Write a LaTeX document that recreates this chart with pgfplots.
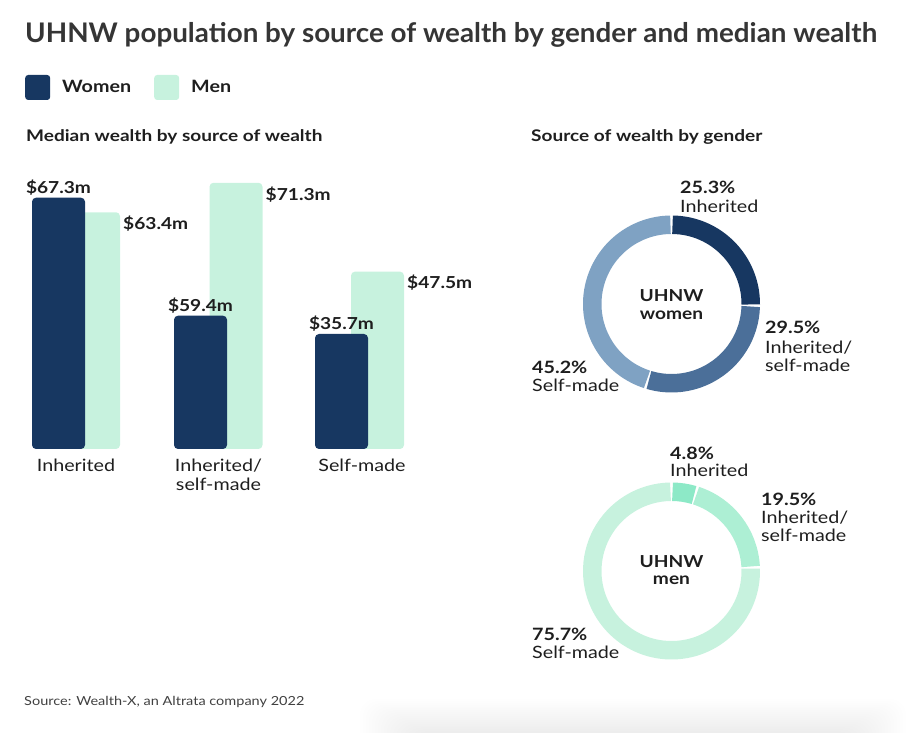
\documentclass[border=0pt]{standalone}
\usepackage{pgfplots}
\pgfplotsset{compat=1.18}
\usepackage{pgfplotstable}
\usepackage{fontspec}
\setmainfont{Lato}[FakeStretch=1.16]
\newfontfamily\titlefont{Lato}[FakeStretch=1.03]
\newfontfamily\subfont{Lato}[FakeStretch=1.19]
\definecolor{navy}{HTML}{173761}
\definecolor{mint}{HTML}{C7F2DE}
\definecolor{wmid}{HTML}{4B6F99}
\definecolor{wlight}{HTML}{7FA2C3}
\definecolor{minh}{HTML}{8DE9C7}
\definecolor{mmid}{HTML}{ADEFD4}
\definecolor{mself}{HTML}{C7F2DE}
\definecolor{ink}{HTML}{1E1E1E}
\newcommand\fs[1]{\fontsize{#1bp}{#1bp}\selectfont}

\pgfplotstableread{
share
25.3
29.5
45.2
}\womenshare
\pgfplotstableread{
share
4.8
19.5
75.7
}\menshare

\newcommand\ring[4]{%
  \xdef\cum{0}%
  \foreach \r/\c in {0/#2,1/#3,2/#4}{%
    \pgfplotstablegetelem{\r}{share}\of#1%
    \pgfmathsetmacro\aS{90-3.6*\cum-0.75}%
    \pgfmathsetmacro\aE{90-3.6*(\cum+\pgfplotsretval)+0.75}%
    \pgfmathsetmacro\nc{\cum+\pgfplotsretval}%
    \xdef\cum{\nc}%
    \draw[line width=18.5bp, draw=\c] (axis cs:0,0) ++(\aS:79.25bp) arc[start angle=\aS, end angle=\aE, radius=79.25bp];
  }%
}

\begin{document}
\begin{tikzpicture}
\path[use as bounding box] (0,0) rectangle (913bp,733bp);

% faint soft shadow at the bottom edge
\foreach \i in {0,...,17}{
  \fill[black, opacity=0.0035, rounded corners=16bp] (360bp+3*\i bp,-20bp) rectangle (906bp-3*\i bp,34bp-1.9*\i bp);
}

% title and subtitles
\node[anchor=base west, inner sep=0pt, text=ink!90, font=\titlefont\bfseries\fs{27}] at (25bp,690bp) {UHNW population by source of wealth by gender and median wealth};
\node[anchor=base west, inner sep=0pt, text=ink, font=\subfont\bfseries\fs{16}] at (26bp,591bp) {Median wealth by source of wealth};
\node[anchor=base west, inner sep=0pt, text=ink, font=\subfont\bfseries\fs{16}] at (531bp,591bp) {Source of wealth by gender};
\node[anchor=base west, inner sep=0pt, text=ink!85, font=\fs{12.5}] at (24bp,28bp) {Source: Wealth-X, an Altrata company 2022};

% bar chart
\begin{axis}[
  at={(20bp,284bp)}, anchor=south west, scale only axis,
  width=400bp, height=298.72bp,
  xmin=20, xmax=420, ymin=0, ymax=80,
  axis line style={draw=none}, ytick=\empty,
  xtick={76,218.5,362}, major tick length=0pt,
  xticklabels={Inherited,{Inherited/\\self-made},Self-made},
  xticklabel style={align=center, font=\fontsize{17bp}{18.5bp}\selectfont, text=ink, anchor=north, inner sep=0pt, yshift=-10bp},
  ybar, bar width=53, bar shift=0pt,
  clip=false,
  point meta=explicit symbolic,
  reverse legend,
  legend columns=2,
  legend cell align=left,
  legend style={at={(0.0125,1.2102)}, anchor=west, draw=none, fill=none, inner sep=0pt,
    font=\bfseries\fs{17}, text=ink,
    /tikz/every odd column/.append style={column sep=10bp},
    /tikz/every even column/.append style={column sep=21bp}},
]
\addplot[fill=mint, draw=none, rounded corners=4bp,
  nodes near coords, nodes near coords style={anchor=base west, inner sep=0pt, xshift=29.5bp, yshift=-17.3bp, font=\bfseries\fs{16.5}, text=ink},
  legend image code/.code={\fill[mint, rounded corners=3bp] (0bp,-12.5bp) rectangle (25bp,12.5bp);}]
  coordinates {(93.5,63.4) [\$63.4m] (236,71.3) [\$71.3m] (377.5,47.5) [\$47.5m]};
\addplot[fill=navy, draw=none, rounded corners=4bp,
  nodes near coords, nodes near coords style={anchor=base, inner sep=0pt, yshift=4.5bp, font=\bfseries\fs{16.5}, text=ink},
  legend image code/.code={\fill[navy, rounded corners=3bp] (0bp,-12.5bp) rectangle (25bp,12.5bp);}]
  coordinates {(58.5,67.3) [\$67.3m] (200.5,35.7) [\$59.4m] (341.5,30.8) [\$35.7m]};
\legend{Men,Women}
\end{axis}

% donuts
\begin{axis}[at={(671.5bp,429bp)}, anchor=origin, scale only axis, width=177bp, height=177bp,
  xmin=-1, xmax=1, ymin=-1, ymax=1, hide axis]
\pgfplotsextra{\ring\womenshare{navy}{wmid}{wlight}}
\end{axis}
\begin{axis}[at={(671.5bp,162bp)}, anchor=origin, scale only axis, width=177bp, height=177bp,
  xmin=-1, xmax=1, ymin=-1, ymax=1, hide axis]
\pgfplotsextra{\ring\menshare{minh}{mmid}{mself}}
\end{axis}

\begin{scope}[every node/.style={inner sep=0pt, text=ink}]
\node[anchor=base, font=\bfseries\fs{16.5}] at (671.5bp,431bp) {UHNW};
\node[anchor=base, font=\bfseries\fs{16.5}] at (671.5bp,413.5bp) {women};
\node[anchor=base, font=\bfseries\fs{16.5}] at (671.5bp,165bp) {UHNW};
\node[anchor=base, font=\bfseries\fs{16.5}] at (671.5bp,148bp) {men};

\node[anchor=base west, font=\bfseries\fs{17}] at (680bp,539bp) {25.3\%};
\node[anchor=base west, font=\fs{17}] at (680bp,520bp) {Inherited};
\node[anchor=base west, font=\bfseries\fs{17}] at (765bp,399bp) {29.5\%};
\node[anchor=base west, font=\fs{17}] at (765bp,379.5bp) {Inherited/};
\node[anchor=base west, font=\fs{17}] at (765bp,361bp) {self-made};
\node[anchor=base west, font=\bfseries\fs{17}] at (532bp,359bp) {45.2\%};
\node[anchor=base west, font=\fs{17}] at (532bp,341bp) {Self-made};

\node[anchor=base west, font=\bfseries\fs{17}] at (670bp,273.5bp) {4.8\%};
\node[anchor=base west, font=\fs{17}] at (670bp,256bp) {Inherited};
\node[anchor=base west, font=\bfseries\fs{17}] at (761bp,227bp) {19.5\%};
\node[anchor=base west, font=\fs{17}] at (761bp,209bp) {Inherited/};
\node[anchor=base west, font=\fs{17}] at (761bp,191bp) {self-made};
\node[anchor=base west, font=\bfseries\fs{17}] at (532bp,92bp) {75.7\%};
\node[anchor=base west, font=\fs{17}] at (532bp,74bp) {Self-made};
\end{scope}
\end{tikzpicture}
\end{document}
